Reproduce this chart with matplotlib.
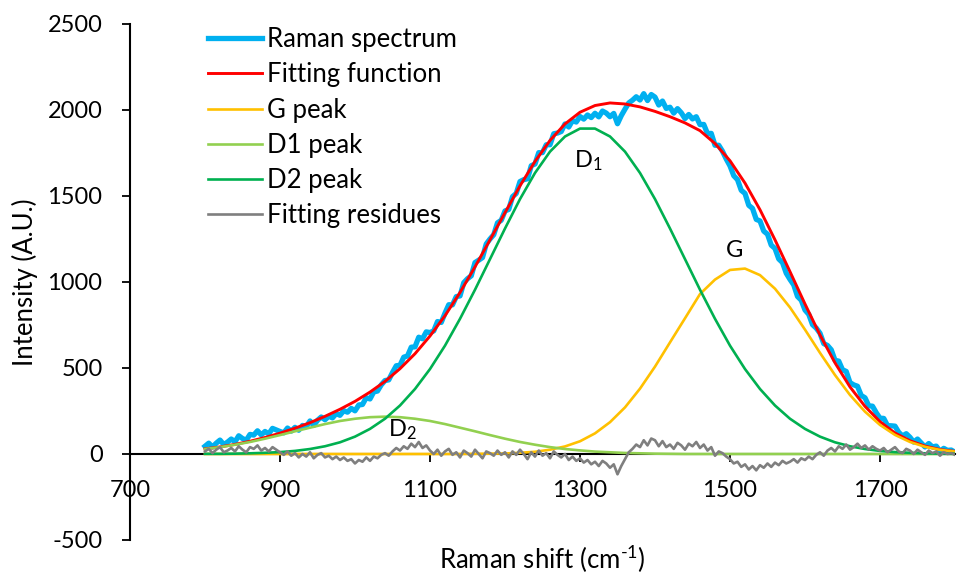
import numpy as np
import matplotlib
matplotlib.use("Agg")
import matplotlib.pyplot as plt

plt.rcParams['font.family'] = ['Lato', 'DejaVu Sans']
plt.rcParams['mathtext.fontset'] = 'custom'
plt.rcParams['mathtext.rm'] = 'Lato'
plt.rcParams['mathtext.it'] = 'Lato:italic'
plt.rcParams['mathtext.default'] = 'regular'
plt.rcParams['axes.unicode_minus'] = False

# ---------------- data ----------------
shift_spec = np.arange(800, 1801, 5)      # Raman shift of measured points
shift_fit = np.arange(800, 1801, 20)      # Raman shift of fitted curves

raman_spectrum = [
    45, 63, 41, 63, 81, 55, 69, 87, 71, 106, 90, 80, 114, 110, 135, 111, 131, 117, 149, 140,
    131, 123, 151, 133, 155, 138, 166, 159, 192, 166, 196, 215, 199, 219, 210, 235, 225, 252, 243, 265,
    251, 285, 288, 327, 320, 361, 366, 402, 427, 431, 474, 513, 516, 563, 570, 621, 623, 679, 670, 710,
    706, 716, 770, 765, 819, 868, 867, 915, 919, 996, 1019, 1036, 1113, 1127, 1142, 1221, 1250, 1275, 1344, 1359,
    1413, 1422, 1496, 1515, 1584, 1595, 1600, 1676, 1686, 1752, 1752, 1798, 1798, 1862, 1866, 1875, 1919, 1901, 1938, 1930,
    1962, 1947, 1971, 1956, 1981, 1960, 1994, 1982, 1961, 1980, 1920, 1967, 2005, 2041, 2057, 2077, 2058, 2095, 2055, 2090,
    2075, 2029, 2052, 2009, 2016, 1982, 2008, 1984, 1950, 1974, 1948, 1961, 1915, 1916, 1863, 1864, 1795, 1795, 1760, 1715,
    1675, 1618, 1595, 1533, 1515, 1446, 1428, 1364, 1355, 1296, 1278, 1214, 1195, 1134, 1113, 1051, 1015, 983, 916, 894,
    837, 812, 752, 732, 702, 642, 631, 606, 545, 540, 490, 480, 415, 402, 394, 340, 327, 280, 278, 240,
    208, 207, 165, 164, 162, 126, 105, 118, 97, 69, 87, 64, 41, 61, 41, 46, 16, 33, 21, 23,
    10,
]

fitting_residues = [
    15, 30, 5, 25, 40, 10, 20, 35, 15, 45, 25, 10, 40, 30, 50, 20, 35, 15, 40, 25,
    10, -5, 15, -10, 5, -20, 0, -15, 10, -25, -5, 5, -20, -10, -30, -15, -35, -20, -40, -30,
    -55, -35, -45, -20, -40, -15, -25, -5, 5, -10, 15, 35, 20, 45, 30, 60, 40, 70, 35, 50,
    20, 0, 25, -10, 15, 30, -5, 10, -20, 20, 5, -15, 25, 0, -25, 15, 5, -10, 20, -5,
    10, -20, 15, -5, 25, 0, -30, 10, -15, 20, -10, 5, -25, 15, -5, -20, 0, -35, -15, -40,
    -25, -50, -35, -60, -45, -70, -40, -55, -80, -60, -118, -70, -30, 10, 30, 55, 40, 80, 50, 90,
    80, 45, 75, 40, 55, 30, 65, 50, 25, 60, 45, 70, 35, 55, 20, 40, -10, 15, 5, -15,
    -30, -55, -45, -75, -60, -90, -70, -95, -65, -80, -55, -75, -50, -65, -40, -55, -45, -30, -50, -25,
    -35, -15, -30, -5, 10, -10, 20, 35, 15, 45, 30, 55, 25, 40, 60, 35, 50, 25, 45, 30,
    20, 35, 10, 25, 40, 15, 5, 30, 20, 0, 25, 10, -5, 20, 5, 15, -10, 10, 0, 5,
    -5,
]

fitting_function = [
    30, 41, 56, 74, 96, 121, 150, 182, 219, 260,
    306, 360, 422, 496, 583, 686, 804, 939, 1088, 1245,
    1403, 1559, 1701, 1823, 1919, 1987, 2026, 2041, 2035, 2018,
    1992, 1961, 1925, 1880, 1805, 1705, 1575, 1420, 1245, 1060,
    872, 692, 530, 390, 277, 188, 122, 77, 46, 26,
    15,
]

g_peak = [
    0, 0, 0, 0, 0, 0, 0, 0, 0, 0,
    0, 0, 0, 0, 0, 0, 0, 0, 1, 2,
    3, 7, 13, 25, 44, 74, 120, 185, 271, 380,
    508, 649, 789, 930, 1014, 1070, 1078, 1040, 961, 852,
    723, 588, 459, 343, 246, 169, 111, 70, 42, 24,
    14,
]

d1_peak = [
    29, 40, 54, 70, 89, 110, 132, 153, 174, 192,
    205, 214, 217, 214, 205, 192, 174, 153, 132, 110,
    89, 70, 54, 40, 29, 21, 14, 10, 6, 4,
    2, 1, 0, 0, 0, 0, 0, 0, 0, 0,
    0, 0, 0, 0, 0, 0, 0, 0, 0, 0,
    0,
]

d2_peak = [
    1, 1, 2, 4, 7, 11, 18, 29, 45, 68,
    101, 146, 205, 282, 378, 494, 630, 786, 955, 1133,
    1311, 1482, 1634, 1758, 1846, 1892, 1892, 1846, 1758, 1634,
    1482, 1311, 1133, 955, 786, 630, 494, 378, 282, 205,
    146, 101, 68, 45, 29, 18, 11, 7, 4, 2,
    1,
]

series_labels = ["Raman spectrum", "Fitting function", "G peak", "D1 peak", "D2 peak", "Fitting residues"]
peak_labels = [r"D$_{1}$", "G", r"D$_{2}$"]
peak_label_pos = [(1311, 1703), (1506, 1186), (1063, 140)]

x_ticks = [700, 900, 1100, 1300, 1500, 1700]
y_ticks = [-500, 0, 500, 1000, 1500, 2000, 2500]

# ---------------- figure ----------------
W, H = 959, 579
fig = plt.figure(figsize=(W / 100, H / 100), dpi=100)
ax = fig.add_axes([130 / W, 39 / H, 825 / W, 516 / H])

FS_TICK = 17
FS_TEXT = 18.5
ax.plot(shift_spec, raman_spectrum, color="#00B0F0", lw=3.8, label=series_labels[0], zorder=2)
ax.plot(shift_fit, fitting_function, color="#FF0000", lw=2.1, label=series_labels[1], zorder=3)
ax.plot(shift_fit, g_peak, color="#FFC000", lw=1.9, label=series_labels[2], zorder=4)
ax.plot(shift_fit, d1_peak, color="#92D050", lw=1.9, label=series_labels[3], zorder=4)
ax.plot(shift_fit, d2_peak, color="#00B050", lw=1.9, label=series_labels[4], zorder=4)
ax.plot(shift_spec, fitting_residues, color="#7F7F7F", lw=1.9, label=series_labels[5], zorder=5)

for txt, (px, py) in zip(peak_labels, peak_label_pos):
    ax.text(px, py, txt, fontsize=FS_TICK, ha="center", va="center", zorder=6)

ax.set_xlim(700, 1800)
ax.set_ylim(-500, 2500)
ax.set_xticks(x_ticks)
ax.set_yticks(y_ticks)

for s in ("top", "right"):
    ax.spines[s].set_visible(False)
ax.spines["bottom"].set_position(("data", 0))
ax.spines["left"].set_linewidth(1.5)
ax.spines["bottom"].set_linewidth(1.5)

ax.tick_params(axis="both", direction="out", length=5.8, width=1.3, labelsize=FS_TICK, colors="black")
ax.tick_params(axis="y", pad=14)
ax.tick_params(axis="x", pad=13)

ax.set_ylabel("Intensity (A.U.)", fontsize=FS_TEXT)
ax.yaxis.set_label_coords(-0.112, 0.5)
ax.set_xlabel(r"Raman shift (cm$^{\text{-1}}$)", fontsize=FS_TEXT)
ax.xaxis.set_label_coords(0.5, -0.0562)
ax.xaxis.label.set_verticalalignment("baseline")

leg = ax.legend(loc="upper left", bbox_to_anchor=(208 / W, 1 - 27 / H), bbox_transform=fig.transFigure,
                frameon=False, fontsize=FS_TEXT, handlelength=2.1, handletextpad=0.2,
                labelspacing=0.40, borderpad=0, borderaxespad=0)

fig.savefig("out.png", dpi=100)
